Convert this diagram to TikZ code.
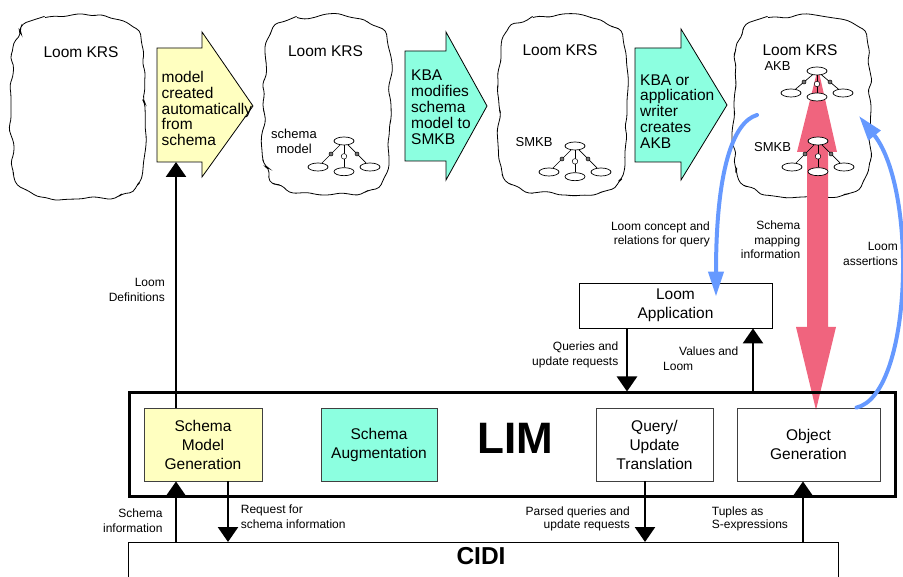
\documentclass[tikz,border=0pt]{standalone}
\usepackage{fontspec}
\setmainfont{Liberation Sans}
\usepackage{xcolor}
\usepackage{tikz}
\usetikzlibrary{shapes.geometric, arrows.meta, positioning, calc, decorations.pathmorphing}
\definecolor{krsyellow}{HTML}{FFFFC0}
\definecolor{krscyan}{HTML}{8CFFE0}
\definecolor{mappink}{HTML}{F0647E}
\definecolor{flowblue}{HTML}{6699FF}

\begin{document}
\begin{tikzpicture}[
    x=1pt, y=-1pt,
    every node/.style={font=\fontsize{12}{14}\selectfont, inner sep=0pt},
    krslabel/.style={font=\fontsize{15.5}{18}\selectfont},
    steptext/.style={align=left, font=\fontsize{15.5}{15.9}\selectfont},
    blockarrow/.style={draw=black, line width=0.8pt},
    cloudline/.style={
        draw=black,
        line width=0.8pt,
        decorate,
        decoration={random steps, segment length=9pt, amplitude=2.8pt},
        rounded corners=4pt
    },
    kb/.style={ellipse, draw, fill=white, line width=0.7pt, minimum width=20pt, minimum height=8pt},
    knob/.style={circle, draw, fill=black!55, line width=0.5pt, minimum size=4pt},
    bigknob/.style={knob, fill=white, minimum size=5.5pt,
        path picture={\fill (path picture bounding box.center) circle (1.2pt);}},
    kblabel/.style={font=\fontsize{13}{14.5}\selectfont, align=center},
    modbox/.style={
        draw=black!75,
        line width=0.8pt,
        minimum height=73pt,
        align=center,
        font=\fontsize{15.5}{19}\selectfont
    },
    flow/.style={line width=2.6pt, -{Triangle[width=20pt, length=15pt]}},
    mapflow/.style={draw=flowblue, line width=4pt, line cap=round,
        -{Triangle[width=15pt, length=25pt]}},
    lbl/.style={font=\fontsize{12}{14.5}\selectfont}
]
\useasboundingbox (0,0) rectangle (903,577);
\pgfmathsetseed{7}

% Row 1: Loom KRS clouds
\foreach \xa/\ya/\xb/\yb in {11/15/145/199, 263/15/391/195, 499/15/627/195, 734/15/871/197} {
    \draw[cloudline] ({\xa+30},{\ya+3}) -- ({(\xa+\xb)/2},{\ya-1}) -- ({\xb-30},{\ya+4})
        -- ({\xb-8},{\ya+14}) -- ({\xb-2},{\ya+34}) -- ({\xb},{(\ya+\yb)/2})
        -- ({\xb-2},{\yb-30}) -- ({\xb-10},{\yb-10}) -- ({\xb-30},{\yb-1})
        -- ({(\xa+\xb)/2},{\yb}) -- ({\xa+30},{\yb-2}) -- ({\xa+9},{\yb-12})
        -- ({\xa+1},{\yb-32}) -- ({\xa},{(\ya+\yb)/2}) -- ({\xa+2},{\ya+32})
        -- ({\xa+10},{\ya+12}) -- cycle;
}
\node[krslabel] (krs1) at (81,52) {Loom KRS};
\node[krslabel] (krs2) at (325.5,51) {Loom KRS};
\node[krslabel] (krs3) at (560,50) {Loom KRS};
\node[krslabel] (krs4) at (800,50) {Loom KRS};

% Block arrows between clouds
\filldraw[blockarrow, fill=krsyellow] (157,48) -- (202,48) -- (202,32) -- (253,106)
    -- (202,177) -- (202,162) -- (157,162) -- cycle;
\filldraw[blockarrow, fill=krscyan] (405,51) -- (446,51) -- (446,32) -- (487,106)
    -- (446,180) -- (446,161) -- (405,161) -- cycle;
\filldraw[blockarrow, fill=krscyan] (635,48) -- (681,48) -- (681,29) -- (727,105)
    -- (681,180) -- (681,162) -- (635,162) -- cycle;
\coordinate (defend) at (176,162);
\node[steptext, anchor=west] (auto) at (161.5,108.5) {model\\created\\automatically\\from\\schema};
\node[steptext, anchor=west] (augm) at (411,107) {KBA\\modifies\\schema\\model to\\SMKB};
\node[steptext, anchor=west] (akb) at (640,111.5) {KBA or\\application\\writer\\creates\\AKB};

% Schema mapping (double arrow)
\fill[mappink] (818,68) -- (837,152) -- (828,152) -- (828,327) -- (836,327) -- (816,410)
    -- (796,327) -- (807,327) -- (807,152) -- (797,152) -- cycle;

% Knowledge base trees
\foreach \tn/\tx/\ty/\td in {sm/344/141/26, sk/575/146/26, ak/817/71/22, sa/818/141/26} {
    \node[kb] (\tn-t) at (\tx,\ty) {};
    \node[kb] (\tn-l) at ({\tx-26},{\ty+\td}) {};
    \node[kb] (\tn-m) at (\tx,{\ty+1.18*\td}) {};
    \node[kb] (\tn-r) at ({\tx+26},{\ty+\td}) {};
    \draw[line width=0.7pt] (\tn-t) -- node[knob]{} (\tn-l);
    \draw[line width=0.7pt] (\tn-t) -- node[bigknob]{} (\tn-m);
    \draw[line width=0.7pt] (\tn-t) -- node[knob]{} (\tn-r);
}
\node[kblabel] (smlab) at (294,141.5) {schema\\model};
\node[kblabel] (sklab) at (534,142.5) {SMKB};
\node[kblabel] (aklab) at (777.5,66.5) {AKB};
\node[kblabel] (salab) at (772.5,147) {SMKB};

% Loom application
\node[draw, line width=0.8pt, minimum width=193pt, minimum height=45pt, align=center,
    font=\fontsize{15.5}{18.6}\selectfont] (app) at (675.5,305.5) {Loom\\Application};

% LIM and its modules
\node[draw, line width=3pt, minimum width=766pt, minimum height=103pt] (lim) at (512,444.5) {};
\node[font=\fontsize{44}{44}\selectfont\bfseries] (limlabel) at (515,438) {LIM};
\node[modbox, fill=krsyellow, minimum width=118pt] (smg) at (203,444.5) {Schema\\Model\\Generation};
\node[modbox, fill=krscyan, minimum width=116pt] (saug) at (379,444.5) {Schema\\Augmentation};
\node[modbox, minimum width=117pt] (qut) at (654.5,444.5) {Query/\\Update\\Translation};
\node[modbox, minimum width=143pt] (og) at (808.5,444.5) {Object\\Generation};

% CIDI
\node[draw, line width=0.8pt, minimum width=710pt, minimum height=60pt, anchor=north west] (cidi) at (128,542) {};
\node[font=\fontsize{24.5}{25}\selectfont\bfseries] (cidilabel) at (481,556) {CIDI};

% Arrows - vertical
\draw[flow] (smg.north -| defend) -- (defend);
\draw[flow] (cidi.north -| defend) -- (smg.south -| defend);
\draw[flow] ([xshift=25pt]smg.south) -- ([xshift=25pt]smg.south |- cidi.north);
\draw[flow] ([xshift=-9.5pt]qut.south) -- ([xshift=-9.5pt]qut.south |- cidi.north);
\draw[flow] ([xshift=-5.5pt]og.south |- cidi.north) -- ([xshift=-5.5pt]og.south);
\draw[flow] ([xshift=-48.5pt]app.south) -- ([xshift=-48.5pt]app.south |- lim.north);
\draw[flow] ([xshift=77.5pt]app.south |- lim.north) -- ([xshift=77.5pt]app.south);

% Arrows - curved
\coordinate (qsrc) at (757,115);
\coordinate (asrt) at (859,116);
\draw[mapflow] (qsrc) .. controls (733,122) and (716,170) .. ([xshift=40.5pt, yshift=-14pt]app.north);
\draw[mapflow] ([xshift=-24pt]og.north east) .. controls (912,395) and (918,190) .. (asrt);

% Labels
\node[lbl, anchor=east, align=right] (ldef) at (165,290) {Loom\\Definitions};
\node[lbl, anchor=east, align=right] (lcq) at (710,234.5) {Loom concept and\\relations for query};
\node[lbl, anchor=east, align=right] (smi) at (800.5,240) {Schema\\mapping\\information};
\node[lbl, anchor=east, align=right] (las) at (898,253.7) {Loom\\assertions};
\node[lbl, anchor=east, align=right] (qur) at (618.5,355) {Queries and\\update requests};
\node[lbl, anchor=west, align=left] (vlo) at (663,358.7) {\hspace*{16pt}Values and\\Loom};
\node[lbl, anchor=east, align=right] (sinf) at (162.7,520.5) {Schema\\information};
\node[lbl, anchor=west, align=left] (rsi) at (240.7,516.7) {Request for\\schema information};
\node[lbl, anchor=east, align=right, font=\fontsize{12}{13}\selectfont] (pqu) at (630,519.3) {Parsed queries and\\update requests};
\node[lbl, anchor=west, align=left, font=\fontsize{12}{13}\selectfont] (tse) at (711.7,519) {Tuples as\\S-expressions};

\end{tikzpicture}
\end{document}
